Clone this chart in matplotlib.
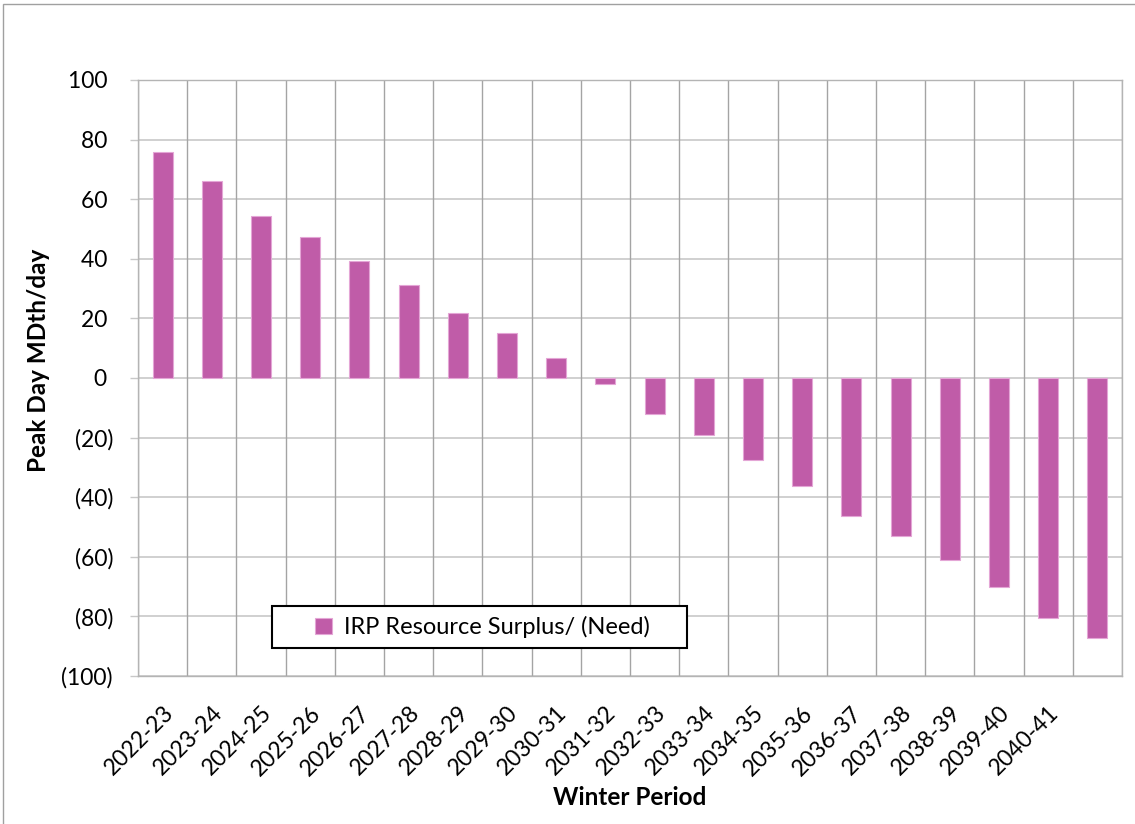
import numpy as np
import matplotlib.pyplot as plt
import matplotlib.transforms as mtransforms
from matplotlib.patches import Rectangle

plt.rcParams['font.family'] = ['Lato', 'DejaVu Sans']

periods = ['2022-23', '2023-24', '2024-25', '2025-26', '2026-27', '2027-28',
           '2028-29', '2029-30', '2030-31', '2031-32', '2032-33', '2033-34',
           '2034-35', '2035-36', '2036-37', '2037-38', '2038-39', '2039-40',
           '2040-41', '']
surplus = [76.0, 66.0, 54.5, 47.2, 39.2, 31.1, 21.7, 15.0, 6.7, -2.0,
           -12.1, -19.1, -27.4, -36.3, -46.3, -52.9, -61.2, -70.1, -80.4, -87.4]
y_ticks = [-100, -80, -60, -40, -20, 0, 20, 40, 60, 80, 100]
y_labels = ['(100)', '(80)', '(60)', '(40)', '(20)', '0 ', '20 ', '40 ', '60 ', '80 ', '100 ']

bar_color = '#c05ca8'

fig = plt.figure(figsize=(11.35, 8.24), dpi=100)
ax = fig.add_axes([138/1135, 1 - 676/824, 984/1135, 596/824])

x = np.arange(len(surplus))
ax.bar(x, surplus, width=0.41, color=bar_color, edgecolor='#e4a6d6',
       linewidth=0.8, label='IRP Resource Surplus/ (Need)', zorder=3)

ax.set_xlim(-0.5, len(surplus) - 0.5)
ax.set_ylim(-100, 100)

# horizontal grid on the value ticks, vertical grid on category boundaries
ax.set_yticks(y_ticks)
ax.set_yticklabels(y_labels, fontsize=16.5)
for yv in y_ticks:
    ax.axhline(yv, color='#c8c8c8', linewidth=1.2, zorder=1)
for xb in np.arange(len(surplus) + 1) - 0.5:
    ax.axvline(xb, color='#a4a4a4', linewidth=1.0, zorder=1)

ax.set_xticks(x)
ax.set_xticklabels(periods, fontsize=16.5, rotation=45, ha='right', va='top',
                   rotation_mode='anchor')
shift = mtransforms.ScaledTranslation(4/100, 0, fig.dpi_scale_trans)
for lbl in ax.get_xticklabels():
    lbl.set_transform(lbl.get_transform() + shift)

ax.tick_params(axis='x', length=0, pad=19)
ax.tick_params(axis='y', length=6, width=1, color='#c8c8c8', pad=12)
for s in ax.spines.values():
    s.set_color('#b4b4b4')
    s.set_linewidth(1.0)

ax.set_xlabel('Winter Period', fontsize=17.5, fontweight='bold')
ax.xaxis.set_label_coords(0.5, -0.185)
ax.set_ylabel('Peak Day MDth/day', fontsize=17.5, fontweight='bold')
ax.yaxis.set_label_coords(-0.0894, 0.53)

# legend sits in a plain white box near the lower left
ax.add_patch(Rectangle((0.1362, 0.047), 0.4218, 0.0705, transform=ax.transAxes,
                       facecolor='white', edgecolor='black', linewidth=1.5,
                       zorder=4, clip_on=False))
leg = ax.legend(loc='center', bbox_to_anchor=(0.35, 0.0822), frameon=False,
                fontsize=17, handlelength=0.7, handleheight=0.7,
                handletextpad=0.5)
leg.set_zorder(5)

# outer chart border
fig.patches.append(Rectangle((3/1135, -0.01), 1.02, 1 - 4/824 + 0.01,
                             transform=fig.transFigure, fill=False,
                             edgecolor='#a0a0a0', linewidth=1.0))

fig.savefig('out.png', dpi=100)
